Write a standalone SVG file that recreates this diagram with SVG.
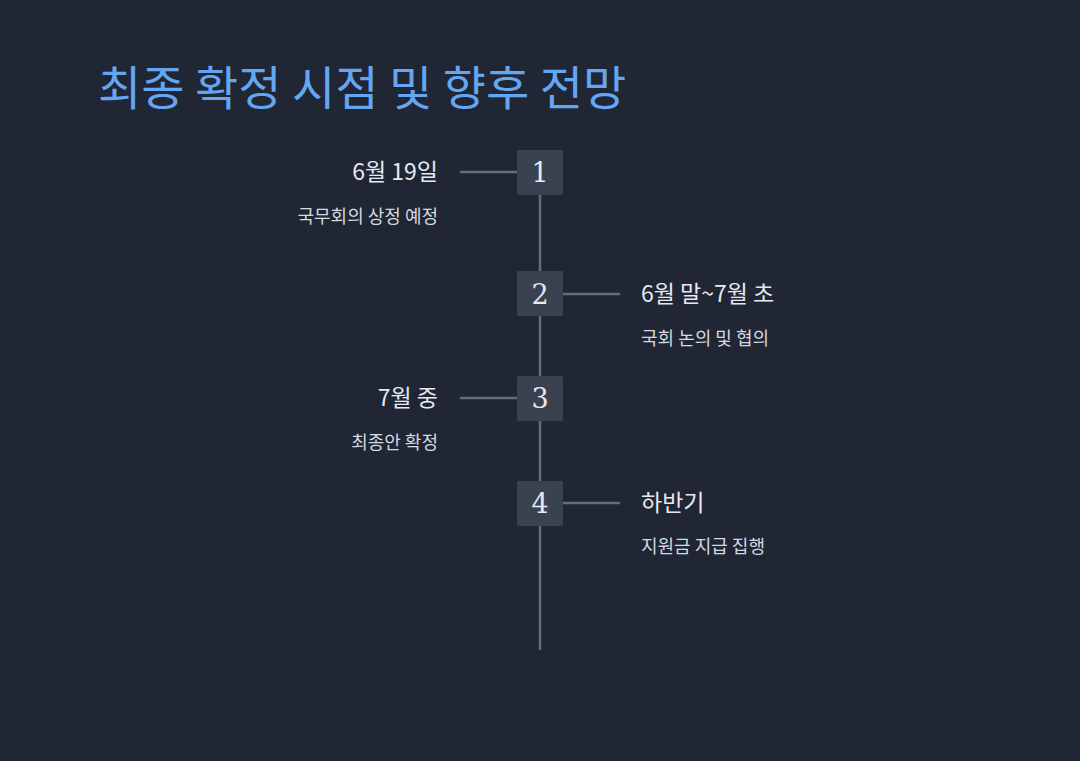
<svg xmlns="http://www.w3.org/2000/svg" width="1080" height="761" viewBox="0 0 1080 761">
<style>
.t{font-family:"Noto Sans CJK KR","Noto Sans",sans-serif}
.title{font-size:47px;fill:#64a6f2}
.h{font-size:23px;fill:#e6e9ef}
.s{font-size:18px;fill:#d5d9e0}
.box{fill:#3a424f}
.n{font-family:"DejaVu Serif","Liberation Serif",serif;font-size:27px;fill:#e6e9ef;text-anchor:middle}
.ln{stroke:#666d78;stroke-width:2.5;fill:none}
</style>
<rect width="1080" height="761" fill="#202633"/>
<text class="t title" x="98" y="105">최종 확정 시점 및 향후 전망</text>
<g id="connectors">
<line class="ln" x1="540" y1="195" x2="540" y2="650"/>
<line class="ln" x1="460" y1="172" x2="517" y2="172"/>
<line class="ln" x1="563" y1="294" x2="620" y2="294"/>
<line class="ln" x1="460" y1="398" x2="517" y2="398"/>
<line class="ln" x1="563" y1="503" x2="620" y2="503"/>
</g>
<g id="node1"><rect class="box" x="517" y="150" width="46" height="45" rx="2"/><text class="n" x="540" y="182">1</text>
<text class="t h" x="438" y="180" text-anchor="end">6월 19일</text><text class="t s" x="438" y="223" text-anchor="end">국무회의 상정 예정</text></g>
<g id="node2"><rect class="box" x="517" y="271" width="46" height="45" rx="2"/><text class="n" x="540" y="304">2</text>
<text class="t h" x="641" y="302">6월 말~7월 초</text><text class="t s" x="641" y="345">국회 논의 및 협의</text></g>
<g id="node3"><rect class="box" x="517" y="376" width="46" height="45" rx="2"/><text class="n" x="540" y="408">3</text>
<text class="t h" x="438" y="406" text-anchor="end">7월 중</text><text class="t s" x="438" y="449" text-anchor="end">최종안 확정</text></g>
<g id="node4"><rect class="box" x="517" y="481" width="46" height="45" rx="2"/><text class="n" x="540" y="513">4</text>
<text class="t h" x="641" y="511">하반기</text><text class="t s" x="641" y="553">지원금 지급 집행</text></g>
</svg>
